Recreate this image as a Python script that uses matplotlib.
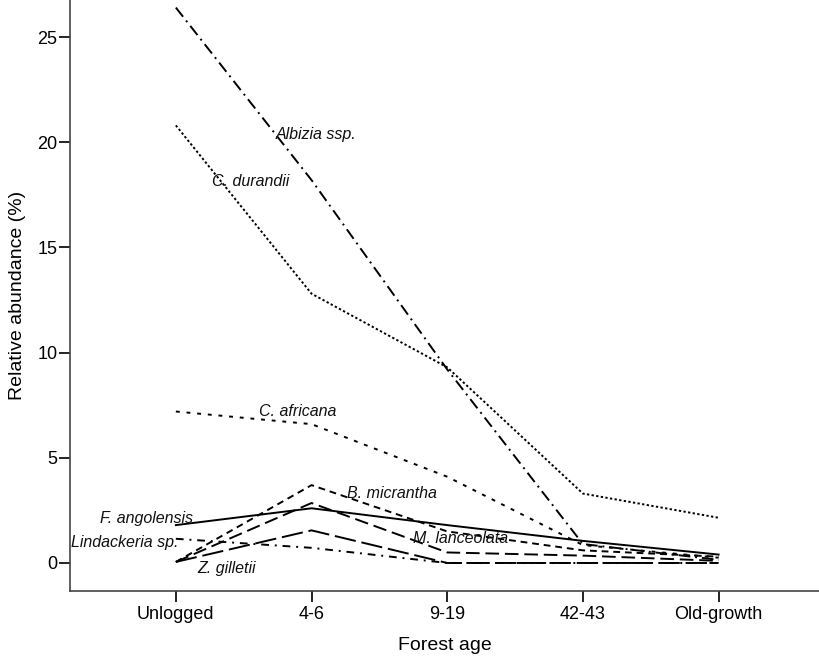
import matplotlib
matplotlib.use('Agg')
import matplotlib.pyplot as plt

plt.rcParams['font.family'] = ['Liberation Sans', 'DejaVu Sans']

ages = ['Unlogged', '4-6', '9-19', '42-43', 'Old-growth']

albizia = [26.4, 18.2, 9.2, 0.9, 0.15]
c_durandii = [20.8, 12.8, 9.3, 3.3, 2.15]
c_africana = [7.2, 6.6, 4.1, 0.85, 0.25]
f_angolensis = [1.8, 2.6, 1.8, 1.05, 0.4]
b_micrantha = [0.05, 3.7, 1.5, 0.6, 0.3]
m_lanceolata = [0.05, 2.85, 0.5, 0.35, 0.1]
z_gilletii = [0.05, 1.55, 0.0, 0.0, 0.0]
lindackeria = [1.15, 0.72, 0.0, 0.0, 0.0]

yticks = [0, 5, 10, 15, 20, 25]

# (values, dash pattern or None for solid)
series = [
    (albizia, (0, (6, 2.5, 1, 2.5))),
    (c_durandii, (0, (1.2, 1.2))),
    (c_africana, (0, (2, 3.5))),
    (f_angolensis, None),
    (b_micrantha, (0, (3.5, 2.5))),
    (m_lanceolata, (0, (7, 3))),
    (z_gilletii, (0, (11, 3))),
    (lindackeria, (0, (4, 3, 1, 3))),
]

# label text, x, y, alignment
labels = [
    ('Albizia ssp.', 0.74, 20.35, 'left'),
    ('C. durandii', 0.27, 18.15, 'left'),
    ('C. africana', 0.61, 7.2, 'left'),
    ('B. micrantha', 1.26, 3.3, 'left'),
    ('F. angolensis', 0.13, 2.1, 'right'),
    ('Lindackeria sp.', 0.02, 0.95, 'right'),
    ('Z. gilletii', 0.16, -0.25, 'left'),
    ('M. lanceolata', 1.75, 1.14, 'left'),
]

fig = plt.figure(figsize=(8.19, 6.64), dpi=100)
ax = fig.add_axes([0.0855, 0.110, 0.9145, 0.890])

xs = list(range(len(ages)))
for vals, dash in series:
    if dash is None:
        ax.plot(xs, vals, color='black', linewidth=1.4, linestyle='-')
    else:
        ax.plot(xs, vals, color='black', linewidth=1.4, linestyle=dash)

for text, x, y, ha in labels:
    ax.text(x, y, text, fontsize=11.5, style='italic', ha=ha, va='center',
            color='#111111')

ax.set_xlim(-0.78, 4.74)
ax.set_ylim(-1.33, 26.76)
ax.set_xticks(xs)
ax.set_xticklabels(ages)
ax.set_yticks(yticks)

ax.spines['top'].set_visible(False)
ax.spines['right'].set_visible(False)
for s in ('left', 'bottom'):
    ax.spines[s].set_color('#444444')
    ax.spines[s].set_linewidth(1.2)

ax.tick_params(axis='both', direction='out', length=8, width=1.4,
               color='#222222', labelsize=13)
ax.tick_params(axis='y', pad=1)
ax.tick_params(axis='x', pad=3)

ax.set_xlabel('Forest age', fontsize=14, labelpad=10)
ax.set_ylabel('Relative abundance (%)', fontsize=14, labelpad=8)

fig.savefig('out.png', dpi=100)
